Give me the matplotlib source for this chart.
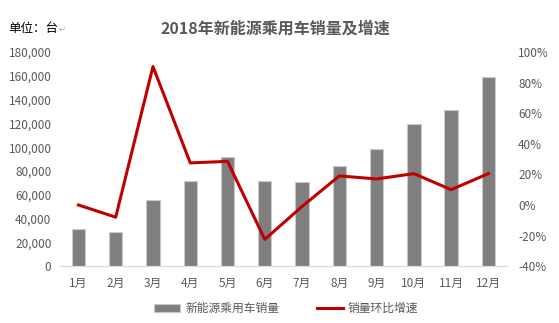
import matplotlib.pyplot as plt
from matplotlib.ticker import FuncFormatter, MultipleLocator

plt.rcParams['font.family'] = ['Noto Sans CJK SC', 'DejaVu Sans']

# Monthly sales of new-energy passenger cars and month-on-month growth
months = ['1月', '2月', '3月', '4月', '5月', '6月', '7月', '8月', '9月', '10月', '11月', '12月']
sales = [31000, 28500, 55500, 71500, 91500, 71500, 70500, 84000, 98500, 119500, 131000, 159000]
growth = [0.0, -8.0, 90.5, 27.5, 28.5, -22.5, -1.0, 19.0, 17.0, 20.5, 10.0, 20.5]

grey_text = '#595959'

fig = plt.figure(figsize=(5.59, 3.23), dpi=100)
ax = fig.add_axes([0.107, 0.176, 0.80, 0.663])
ax2 = ax.twinx()

x = range(len(months))
bars = ax.bar(x, sales, width=0.36, color='#7f7f7f', edgecolor='#c9c9c9',
              linewidth=0.8, label='新能源乘用车销量', zorder=2)
line, = ax2.plot(x, growth, color='#c00000', linewidth=2.2, label='销量环比增速', zorder=3)

ax.set_xlim(-0.5, len(months) - 0.5)
ax.set_ylim(0, 180000)
ax.yaxis.set_major_locator(MultipleLocator(20000))
ax.yaxis.set_major_formatter(FuncFormatter(lambda v, p: f'{int(v):,}'))
ax2.set_ylim(-40, 100)
ax2.yaxis.set_major_locator(MultipleLocator(20))
ax2.yaxis.set_major_formatter(FuncFormatter(lambda v, p: f'{int(v)}%'))

ax.set_xticks(list(x))
ax.set_xticklabels(months)

for a in (ax, ax2):
    for s in ('top', 'left', 'right'):
        a.spines[s].set_visible(False)
    a.spines['bottom'].set_color('#d9d9d9')
    a.tick_params(length=0, labelsize=8.5, colors=grey_text)
ax.tick_params(axis='x', pad=8)
ax.tick_params(axis='y', pad=6)
ax2.tick_params(axis='y', pad=8)

fig.text(0.493, 0.912, '2018年新能源乘用车销量及增速', ha='center', va='center',
         fontsize=11.5, fontweight='bold', color=grey_text)
fig.text(0.014, 0.912, '单位：台', ha='left', va='center', fontsize=9, color='black')
fig.text(0.104, 0.908, '↵', ha='left', va='center', fontsize=6, color='#a6a6a6',
         family=['DejaVu Sans'])

fig.legend(handles=[bars, line], loc='center', bbox_to_anchor=(0.512, 0.045), ncol=2,
           frameon=False, fontsize=8.5, labelcolor=grey_text, handlelength=2.2,
           handletextpad=0.4, columnspacing=3.2)

fig.savefig('out.png', dpi=100)
